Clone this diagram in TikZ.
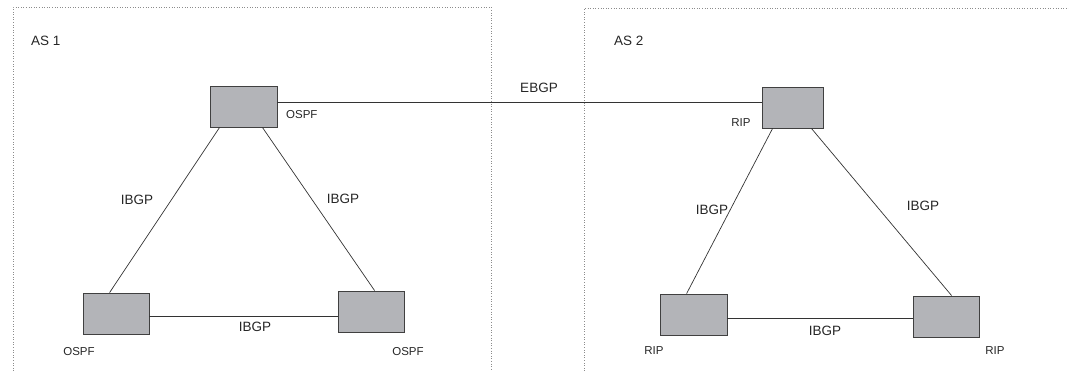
\documentclass[tikz,border=0pt]{standalone}
\usepackage{fontspec}
\setmainfont{Liberation Sans}
\begin{document}
\begin{tikzpicture}[x=1pt,y=-1pt,
  router/.style={draw=black!75,line width=0.8pt,fill=routergray,minimum height=41pt,inner sep=0pt},
  asbox/.style={draw=black!45,dotted,line width=0.6pt},
  link/.style={draw=black!80,line width=0.7pt},
  big/.style={font=\fontsize{13.5}{15}\selectfont,inner sep=0pt,text=black!85},
  small/.style={font=\fontsize{11.5}{13}\selectfont,inner sep=0pt,text=black!85}]
\definecolor{routergray}{HTML}{B3B4B8}
\useasboundingbox (0,0) rectangle (1069,371);
% AS boxes
\draw[asbox] (13,371) -- (13,7) -- (491,7) -- (491,371);
\draw[asbox] (584,371) -- (584,8) -- (1075,8);
\node[big,anchor=west] (as1) at (31,41) {AS 1};
\node[big,anchor=west] (as2) at (614,41) {AS 2};
% routers AS1
\node[router,minimum width=67pt] (a1) at (243.5,106.5) {};
\node[router,minimum width=66pt] (a2) at (116,313.5) {};
\node[router,minimum width=66pt] (a3) at (371,311.5) {};
% routers AS2
\node[router,minimum width=61pt] (b1) at (792.5,107.5) {};
\node[router,minimum width=67pt] (b2) at (693.5,314.5) {};
\node[router,minimum width=66pt] (b3) at (946,316.5) {};
% links
\draw[link] ([yshift=4.5pt]a1.east) -- ([yshift=5.5pt]b1.west);
\draw[link] ([xshift=10pt]a1.south west) -- ([xshift=27pt]a2.north west);
\draw[link] ([xshift=-15pt]a1.south east) -- ([xshift=37pt]a3.north west);
\draw[link] ([yshift=-2.5pt]a2.east) -- ([yshift=-4.5pt]a3.west);
\draw[link] ([xshift=11pt]b1.south west) -- ([xshift=27pt]b2.north west);
\draw[link] ([xshift=-12pt]b1.south east) -- ([xshift=39pt]b3.north west);
\draw[link] ([yshift=-3.5pt]b2.east) -- ([yshift=-1.5pt]b3.west);
% link labels
\node[big] (lebgp) at (539,88) {EBGP};
\node[big] (l1) at (137,200) {IBGP};
\node[big] (l2) at (343,199) {IBGP};
\node[big] (l3) at (255,327) {IBGP};
\node[big] (l4) at (712,210) {IBGP};
\node[big] (l5) at (923,206) {IBGP};
\node[big] (l6) at (825,331) {IBGP};
% protocol labels
\node[small,anchor=west] (p1) at (286,115) {OSPF};
\node[small] (p2) at (79,352) {OSPF};
\node[small] (p3) at (408,352) {OSPF};
\node[small] (p4) at (741,123) {RIP};
\node[small] (p5) at (654,351) {RIP};
\node[small] (p6) at (995,351) {RIP};
\end{tikzpicture}
\end{document}
